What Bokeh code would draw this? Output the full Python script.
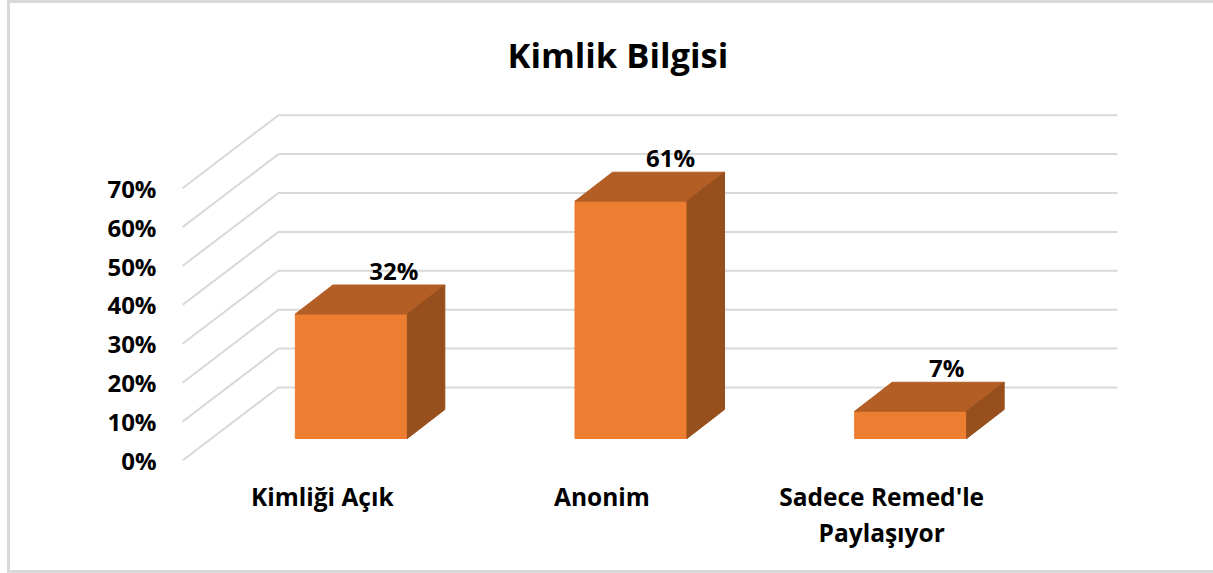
from bokeh.plotting import figure
from bokeh.models import Range1d, LinearAxis, FixedTicker, Title
from bokeh.embed import file_html
from bokeh.resources import INLINE
from bokeh.core.properties import value

categories = ["Kimliği Açık", "Anonim", "Sadece Remed'le\nPaylaşıyor"]
values = [32, 61, 7]
labels = ["32%", "61%", "7%"]
y_ticks = [0, 10, 20, 30, 40, 50, 60, 70]
chart_title = "Kimlik Bilgisi"

W, H = 1213, 573
FONT = "Open Sans"
PX_X = 279.67   # pixels per category
PX_Y = 3.89     # pixels per percent
FL, FR, FT, FB = 160, 1130, 105, 460   # frame edges in pixels
X0, Y0 = 182, 460                      # front-left floor corner

x_range = Range1d((FL - X0) / PX_X, (FR - X0) / PX_X)
y_range = Range1d((Y0 - FB) / PX_Y, (Y0 - FT) / PX_Y)

FRAME = "linear-gradient(#d9d9d9,#d9d9d9)"
p = figure(width=W, height=H, output_backend="svg", toolbar_location=None,
           x_range=x_range, y_range=y_range, x_axis_location=None, y_axis_location=None,
           min_border_left=FL, min_border_right=W - FR, min_border_top=FT, min_border_bottom=H - FB,
           background_fill_color=None, border_fill_color=None,
           styles={"background": f"{FRAME} 7px 0/100% 3px no-repeat, {FRAME} 7px 100%/100% 3px no-repeat, "
                                 f"{FRAME} 7px 0/3px 100% no-repeat, white"})
p.outline_line_color = None
p.grid.visible = False

WALL_X = 96 / PX_X
WALL_Y = 73 / PX_Y
gx, gy = [], []
for t in y_ticks:
    gx.append([0, WALL_X, WALL_X + len(categories)])
    gy.append([t, t + WALL_Y, t + WALL_Y])
p.multi_line(gx, gy, line_color="#d9d9d9", line_width=2)

BAR_X = 29 / PX_X
BAR_Y = 22 / PX_Y
HALF = 56 / PX_X
DX = 37.5 / PX_X
DY = 29 / PX_Y
FRONT, TOP, SIDE = "#ED7D31", "#B35E24", "#97501D"
for i, v in enumerate(values):
    c = i + 0.5 + BAR_X
    l, r = c - HALF, c + HALF
    b, t = BAR_Y, v + BAR_Y
    p.patch([l, r, r, l], [b, b, t, t], fill_color=FRONT, line_color=FRONT, line_width=1)
    p.patch([l, r, r + DX, l + DX], [t, t, t + DY, t + DY], fill_color=TOP, line_color=TOP, line_width=1)
    p.patch([r, r + DX, r + DX, r], [b, b + DY, t + DY, t], fill_color=SIDE, line_color=SIDE, line_width=1)

LABEL_DX = [42.5 / PX_X, 39.5 / PX_X, 36 / PX_X]
LABEL_DY = 15 / PX_Y
p.text([i + 0.5 + BAR_X + LABEL_DX[i] for i in range(3)],
       [v + BAR_Y + DY + LABEL_DY for v in values],
       text=labels, text_font=value(FONT), text_font_style="bold", text_font_size="24px",
       text_color="black", text_align="center", text_baseline="middle")

yax = LinearAxis(ticker=FixedTicker(ticks=y_ticks),
                 major_label_overrides={t: f"{t}%" for t in y_ticks})
yax.axis_line_color = None
yax.major_tick_line_color = None
yax.minor_tick_line_color = None
yax.major_tick_out = 0
yax.major_label_text_font = FONT
yax.major_label_text_font_style = "bold"
yax.major_label_text_font_size = "24px"
yax.major_label_text_color = "black"
yax.major_label_standoff = 4
p.add_layout(yax, "left")

xax = LinearAxis(ticker=FixedTicker(ticks=[0.5, 1.5, 2.5]),
                 major_label_overrides={i + 0.5: c for i, c in enumerate(categories)})
xax.axis_line_color = None
xax.major_tick_line_color = None
xax.minor_tick_line_color = None
xax.major_tick_out = 0
xax.major_label_text_font = FONT
xax.major_label_text_font_style = "bold"
xax.major_label_text_font_size = "24.5px"
xax.major_label_text_color = "black"
xax.major_label_text_line_height = 1.1
xax.major_label_standoff = 19
p.add_layout(xax, "below")

p.add_layout(Title(text=chart_title, align="left", offset=347, standoff=56,
                   text_font=FONT, text_font_style="bold", text_font_size="34.5px",
                   text_color="black"), "above")

open("out.html", "w").write(file_html(p, INLINE))
